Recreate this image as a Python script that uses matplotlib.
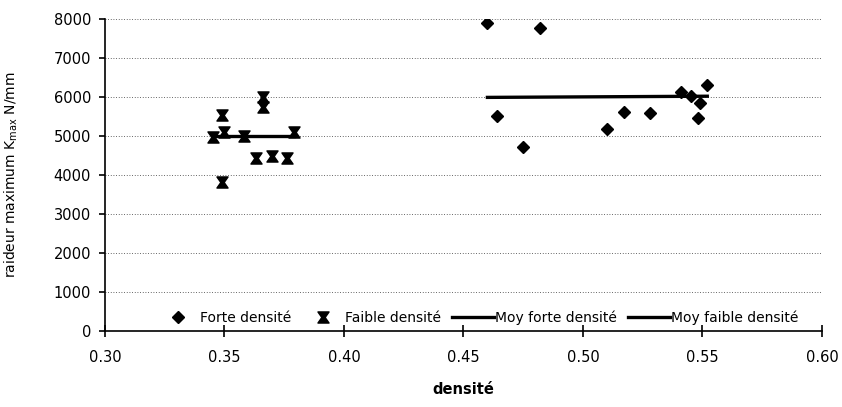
import numpy as np
import matplotlib.pyplot as plt
from matplotlib.path import Path

# data
forte_x = [0.460, 0.482, 0.464, 0.475, 0.510, 0.517, 0.528, 0.541, 0.545, 0.549, 0.548, 0.552]
forte_y = [7900, 7760, 5510, 4710, 5180, 5610, 5580, 6140, 6030, 5850, 5470, 6320]
faible_x = [0.345, 0.349, 0.350, 0.349, 0.358, 0.363, 0.366, 0.366, 0.370, 0.376, 0.379]
faible_y = [4980, 5540, 5110, 3830, 5000, 4430, 6010, 5740, 4490, 4430, 5090]
moy_forte_x = [0.460, 0.552]
moy_forte_y = [5990, 6020]
moy_faible_x = [0.347, 0.379]
moy_faible_y = [4990, 4990]

plt.rcParams['font.family'] = ['DejaVu Sans']

# hourglass-shaped cross marker, like the old Excel one
hourglass = Path([(-1, 1), (1, 1), (0.3, 0), (1, -1), (-1, -1), (-0.3, 0), (-1, 1)],
                 [Path.MOVETO] + [Path.LINETO] * 5 + [Path.CLOSEPOLY])

fig = plt.figure(figsize=(8.42, 4.07), dpi=100)
ax = fig.add_axes([105 / 842, 1 - 331 / 407, (822 - 105) / 842, (331 - 19) / 407])

ax.plot(forte_x, forte_y, linestyle='none', marker='D', markersize=6.5, color='black', label='Forte densité')
ax.plot(faible_x, faible_y, linestyle='none', marker=hourglass, markersize=8, color='black', label='Faible densité')
ax.plot(moy_forte_x, moy_forte_y, color='black', linewidth=2.4, label='Moy forte densité')
ax.plot(moy_faible_x, moy_faible_y, color='black', linewidth=2.4, label='Moy faible densité')

ax.set_xlim(0.30, 0.60)
ax.set_ylim(0, 8000)
ax.set_xticks(np.arange(0.30, 0.601, 0.05))
ax.set_xticklabels([f'{v:.2f}' for v in np.arange(0.30, 0.601, 0.05)])
ax.set_yticks(range(0, 8001, 1000))
ax.yaxis.grid(True, linestyle=(0, (1, 2.2)), color='#333333', linewidth=0.6)
ax.set_axisbelow(True)
for s in ['top', 'right']:
    ax.spines[s].set_visible(False)
ax.spines['left'].set_linewidth(1.2)
ax.spines['bottom'].set_linewidth(1.2)
ax.tick_params(axis='x', direction='inout', length=8, width=1.2, labelsize=10.5, pad=10)
ax.tick_params(axis='y', direction='out', length=4, width=1.2, labelsize=10.5, pad=6)

ax.set_xlabel('densité', fontsize=10.5, fontweight='bold', labelpad=12)
ax.set_ylabel(r'raideur maximum K$_{\mathrm{max}}$ N/mm', fontsize=10, labelpad=24)

ax.legend(loc='lower right', bbox_to_anchor=(0.985, -0.02), ncol=4, frameon=False,
          fontsize=10, handlelength=3.0, handletextpad=0.1, columnspacing=0.8)

fig.savefig('out.png', dpi=100)
